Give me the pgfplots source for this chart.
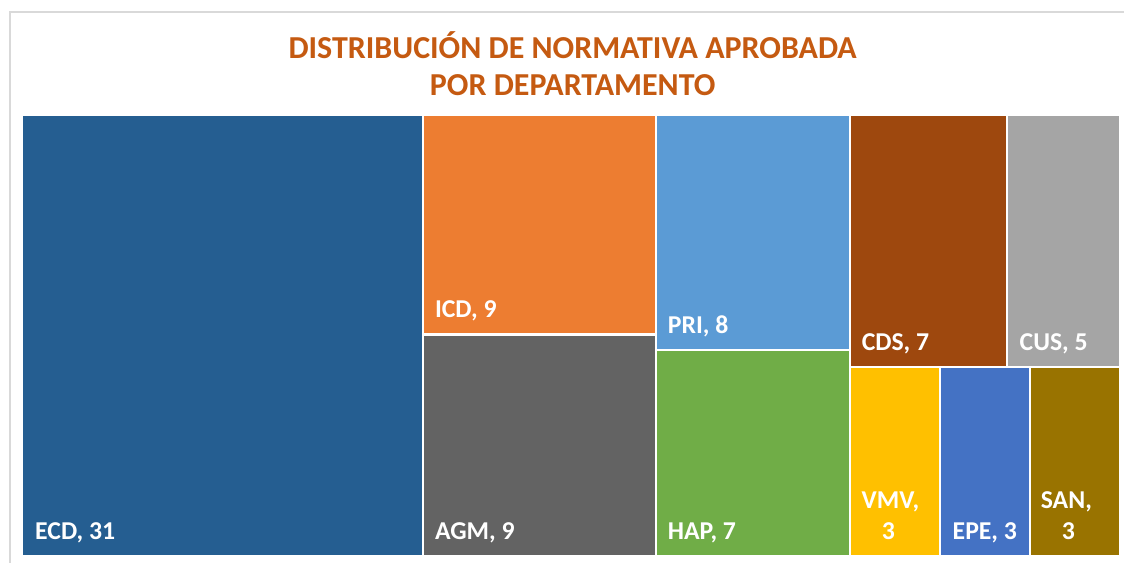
\documentclass[border=0pt]{standalone}
\usepackage{pgfplots}
\pgfplotsset{compat=1.18}
\usepackage{fontspec}
\setmainfont{Carlito}
\definecolor{cECD}{HTML}{255E91}
\definecolor{cICD}{HTML}{ED7D31}
\definecolor{cAGM}{HTML}{636363}
\definecolor{cPRI}{HTML}{5B9BD5}
\definecolor{cHAP}{HTML}{70AD47}
\definecolor{cCDS}{HTML}{9E480E}
\definecolor{cCUS}{HTML}{A5A5A5}
\definecolor{cVMV}{HTML}{FFC000}
\definecolor{cEPE}{HTML}{4472C4}
\definecolor{cSAN}{HTML}{997300}
\definecolor{ctitle}{HTML}{C55A11}
\definecolor{frame}{RGB}{217,217,217}
\tikzset{lbl/.style={font=\fontsize{19.3}{22}\selectfont\bfseries, text=white, inner sep=0pt}}
% tile: colour, x0, x1, y0, y1 (treemap cells, pixel units)
\newcommand\tile[5]{%
  \addplot[fill=#1, draw=none] coordinates {(#2,#4)(#3,#4)(#3,#5)(#2,#5)} -- cycle;}
\begin{document}
\begin{tikzpicture}
\begin{axis}[width=843.75pt, height=422.25pt, scale only axis, hide axis,
  xmin=0, xmax=1125, ymin=0, ymax=563, clip=false]
\addplot[fill=white, draw=none] coordinates {(0,0)(1125,0)(1125,563)(0,563)} -- cycle;
\addplot[frame, line width=1pt] coordinates {(10,0)(10,551)(1125,551)};
% value: ECD 31, ICD 9, AGM 9, PRI 8, HAP 7, CDS 7, CUS 5, VMV 3, EPE 3, SAN 3
\tile{cECD}{23}{422}{8}{447}
\tile{cICD}{424}{655}{230}{447}
\tile{cAGM}{424}{655}{8}{227}
\tile{cPRI}{657}{849}{214}{447}
\tile{cHAP}{657}{849}{8}{212}
\tile{cCDS}{851}{1007}{197}{447}
\tile{cCUS}{1009}{1120}{197}{447}
\tile{cVMV}{851}{940}{8}{195}
\tile{cEPE}{942}{1030}{8}{195}
\tile{cSAN}{1032}{1120}{8}{195}
\node[lbl, anchor=base west] at (axis cs:35,23) {ECD, 31};
\node[lbl, anchor=base west] at (axis cs:435,245) {ICD, 9};
\node[lbl, anchor=base west] at (axis cs:435,23) {AGM, 9};
\node[lbl, anchor=base west] at (axis cs:668,229) {PRI, 8};
\node[lbl, anchor=base west] at (axis cs:668,23) {HAP, 7};
\node[lbl, anchor=base west] at (axis cs:862,212) {CDS, 7};
\node[lbl, anchor=base west] at (axis cs:1020,212) {CUS, 5};
\node[lbl, anchor=base] at (axis cs:891,54) {VMV,};
\node[lbl, anchor=base] at (axis cs:889,23) {3};
\node[lbl, anchor=base west] at (axis cs:953,23) {EPE, 3};
\node[lbl, anchor=base] at (axis cs:1067,54) {SAN,};
\node[lbl, anchor=base] at (axis cs:1069,23) {3};
\node[anchor=base, font=\fontsize{24}{28}\selectfont\bfseries, text=ctitle] at (axis cs:573,504) {DISTRIBUCIÓN DE NORMATIVA APROBADA};
\node[anchor=base, font=\fontsize{24}{28}\selectfont\bfseries, text=ctitle] at (axis cs:573,467) {POR DEPARTAMENTO};
\end{axis}
\end{tikzpicture}
\end{document}
